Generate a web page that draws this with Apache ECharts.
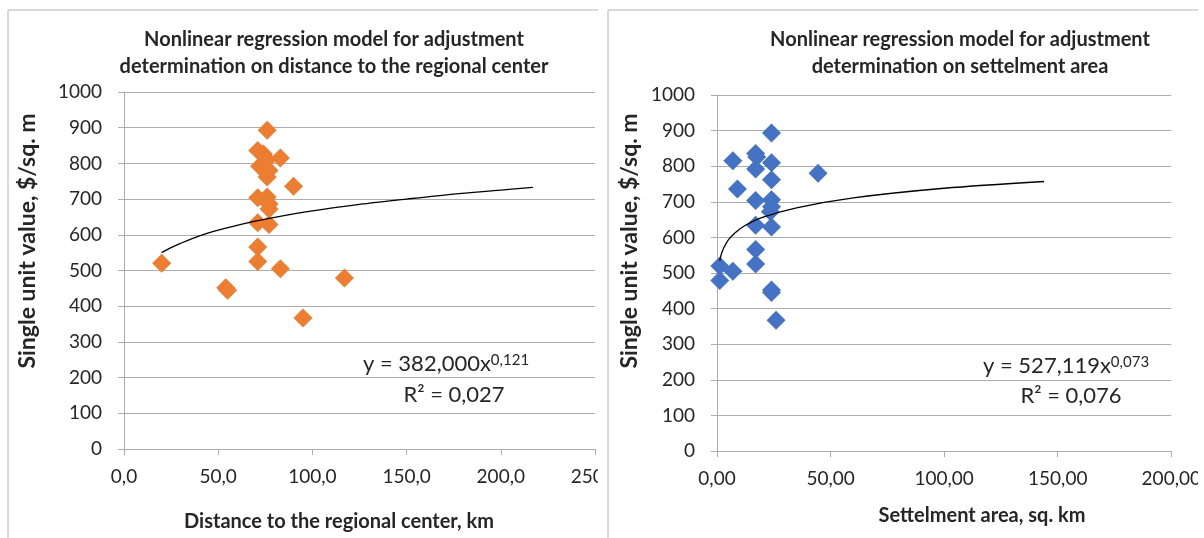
<!DOCTYPE html>
<html>
<head>
<meta charset="utf-8">
<script src="https://cdn.jsdelivr.net/npm/echarts@6/dist/echarts.min.js"></script>
<style>
  html, body { margin: 0; padding: 0; background: #fff; }
  #chart { width: 1204px; height: 538px; }
</style>
</head>
<body>
<div id="chart"></div>
<script>
// single unit value, $/sq. m  (same objects in both panels)
var unitValue = [893, 836, 826, 815, 810, 792, 780, 762, 736, 704, 706, 686, 672, 634, 629, 566, 525, 520, 505, 479, 452, 445, 367];
// distance to the regional center, km
var distance  = [76, 71, 74, 83, 76, 72, 77, 76, 90, 71, 76, 77, 77, 71, 77, 71, 71, 20, 83, 117, 54, 55, 95];
// settlement area, sq. km
var area      = [24, 17, 17.5, 7, 24, 17, 44.5, 24, 9, 17, 24, 24, 23.5, 17, 24, 17, 17, 1.2, 7, 1.2, 24, 24, 26];

// power trend lines
var trendDistX = [20, 25, 30, 40, 50, 65, 80, 100, 125, 150, 175, 200, 217];
var trendDistY = [550, 564, 576, 597, 613, 633, 649, 667, 685, 700, 714, 725, 733];
var trendAreaX = [1.2, 1.5, 2, 3, 5, 8, 12, 20, 35, 60, 100, 144];
var trendAreaY = [534, 543, 555, 571, 593, 613, 632, 656, 683, 711, 738, 757];

var yTicks = [0, 1000, 100];
var distTicks = [0, 250, 50];
var areaTicks = [0, 200, 50];

var FONT = 'Lato';
var gridColor = '#ADADAD';
var textColor = '#262626';

function pairs(xs, ys) {
  return xs.map(function (x, i) { return [x, ys[i]]; });
}

function commaFmt(digits) {
  return function (v) { return v.toFixed(digits).replace('.', ','); };
}

function makeX(idx, ticks, digits) {
  return {
    type: 'value', gridIndex: idx,
    min: ticks[0], max: ticks[1], interval: ticks[2],
    axisLine: { show: true, onZero: false, lineStyle: { color: gridColor, width: 1 } },
    axisTick: { show: true, length: 6, lineStyle: { color: gridColor } },
    splitLine: { show: false },
    axisLabel: { formatter: commaFmt(digits), color: textColor, fontFamily: FONT, fontSize: 19, margin: 18, showMaxLabel: true }
  };
}

function makeY(idx) {
  return {
    type: 'value', gridIndex: idx,
    min: yTicks[0], max: yTicks[1], interval: yTicks[2],
    axisLine: { show: true, lineStyle: { color: gridColor, width: 1 } },
    axisTick: { show: true, length: 6, lineStyle: { color: gridColor } },
    splitLine: { show: true, lineStyle: { color: gridColor, width: 1 } },
    axisLabel: { formatter: function (v) { return String(v); }, color: textColor, fontFamily: FONT, fontSize: 19, margin: 22 }
  };
}

function eqText(x, y, coef, pow) {
  return {
    type: 'text', left: x, top: y, z: 50,
    style: {
      text: '{a|y = ' + coef + 'x}{s|' + pow + '}',
      rich: {
        a: { fontFamily: FONT, fontSize: 22, fill: textColor, verticalAlign: 'bottom' },
        s: { fontFamily: FONT, fontSize: 15, fill: textColor, verticalAlign: 'top', padding: [0, 0, 6, 0] }
      }
    }
  };
}

function plainText(x, y, txt, size, bold, rot) {
  return {
    type: 'text', x: x, y: y, rotation: rot || 0, z: 50,
    style: {
      text: txt, fontFamily: FONT, fontSize: size, fontWeight: bold ? 'bold' : 'normal',
      fill: textColor, align: 'center', verticalAlign: 'middle'
    }
  };
}

var chart = echarts.init(document.getElementById('chart'));
chart.setOption({
  backgroundColor: '#fff',
  animation: false,
  title: [{
    text: 'Nonlinear regression model for adjustment\ndetermination on distance to the regional center',
    left: 334, top: 26, padding: 0, textAlign: 'center',
    textStyle: { fontFamily: FONT, fontSize: 20, fontWeight: 'bold', color: textColor, lineHeight: 27 }
  }, {
    text: 'Nonlinear regression model for adjustment\ndetermination on settelment area',
    left: 960, top: 26, padding: 0, textAlign: 'center',
    textStyle: { fontFamily: FONT, fontSize: 20, fontWeight: 'bold', color: textColor, lineHeight: 27 }
  }],
  grid: [
    { left: 124, top: 92, width: 471, height: 357 },
    { left: 717, top: 95, width: 469, height: 356 }
  ],
  xAxis: [makeX(0, distTicks, 1), makeX(1, areaTicks, 2)],
  yAxis: [makeY(0), makeY(1)],
  series: [{
    type: 'scatter', xAxisIndex: 0, yAxisIndex: 0,
    symbol: 'diamond', symbolSize: 19,
    itemStyle: { color: '#ED7D31', opacity: 1 },
    data: pairs(distance, unitValue)
  }, {
    type: 'line', xAxisIndex: 0, yAxisIndex: 0,
    smooth: 0.3, showSymbol: false,
    lineStyle: { color: '#000', width: 1.3 },
    data: pairs(trendDistX, trendDistY)
  }, {
    type: 'scatter', xAxisIndex: 1, yAxisIndex: 1,
    symbol: 'diamond', symbolSize: 19,
    itemStyle: { color: '#4472C4', opacity: 1 },
    data: pairs(area, unitValue)
  }, {
    type: 'line', xAxisIndex: 1, yAxisIndex: 1,
    smooth: 0.3, showSymbol: false,
    lineStyle: { color: '#000', width: 1.3 },
    data: pairs(trendAreaX, trendAreaY)
  }],
  graphic: [
    // clip the cut-off last tick labels at the panel edges
    { type: 'rect', shape: { x: 598, y: 455, width: 30, height: 40 }, style: { fill: '#fff' }, z: 40 },
    { type: 'rect', shape: { x: 1198, y: 455, width: 10, height: 40 }, style: { fill: '#fff' }, z: 40 },
    // panel borders
    { type: 'polyline', shape: { points: [[8, 538], [8, 10], [598, 10]] }, style: { stroke: '#B4B4B4', fill: null, lineWidth: 1 }, z: 45 },
    { type: 'polyline', shape: { points: [[608, 538], [608, 10], [1198, 10]] }, style: { stroke: '#B4B4B4', fill: null, lineWidth: 1 }, z: 45 },
    // axis names
    plainText(28, 241, 'Single unit value, $/sq. m', 23, true, Math.PI / 2),
    plainText(339, 522, 'Distance to the regional center, km', 20, true),
    plainText(630, 241, 'Single unit value, $/sq. m', 23, true, Math.PI / 2),
    plainText(982, 516, 'Settelment area, sq. km', 20, true),
    // regression equations
    eqText(363, 353, '382,000', '0,121'),
    plainText(454, 395, 'R² = 0,027', 22, false),
    eqText(983, 355, '527,119', '0,073'),
    plainText(1071, 396, 'R² = 0,076', 22, false)
  ]
});
</script>
</body>
</html>
